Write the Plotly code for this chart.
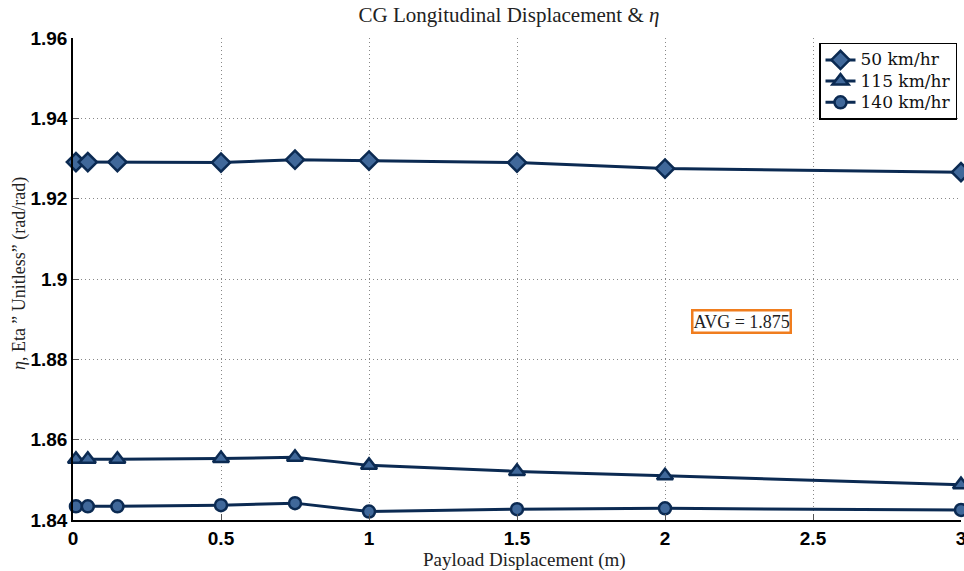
import plotly.graph_objects as go

# Payload displacement positions (m)
x_disp = [0.01, 0.05, 0.15, 0.5, 0.75, 1.0, 1.5, 2.0, 3.0]

# Eta values for each speed
eta_50 = [1.9291, 1.9291, 1.9291, 1.9290, 1.9297, 1.9295, 1.9290, 1.9275, 1.9266]
eta_115 = [1.8551, 1.8551, 1.8551, 1.8553, 1.8556, 1.8536, 1.8521, 1.8510, 1.8488]
eta_140 = [1.8434, 1.8434, 1.8434, 1.8437, 1.8442, 1.8421, 1.8427, 1.8429, 1.8425]

series_names = ["50 km/hr", "115 km/hr", "140 km/hr"]
series_symbols = ["diamond", "triangle-up", "circle"]
series_sizes = [14, 14, 12]

x_ticks = [0, 0.5, 1, 1.5, 2, 2.5, 3]
x_tick_text = ["0", "0.5", "1", "1.5", "2", "2.5", "3"]
y_ticks = [1.84, 1.86, 1.88, 1.90, 1.92, 1.94, 1.96]
y_tick_text = ["1.84", "1.86", "1.88", "1.9", "1.92", "1.94", "1.96"]

avg_value = 1.875
avg_pos = (2.26, 1.8894)

line_color = "#0b2a52"
fill_color = "#40689a"
serif = "Liberation Serif"
sans = "Liberation Sans"
grid_dash = "1px,3px"

fig = go.Figure()
for name, ys, sym, sz in zip(series_names, [eta_50, eta_115, eta_140], series_symbols, series_sizes):
    fig.add_trace(go.Scatter(
        x=x_disp, y=ys, name=f'<span style="font-size:17px">{name}</span>',
        mode="lines+markers",
        line=dict(color=line_color, width=3),
        marker=dict(symbol=sym, size=sz, color=fill_color,
                    line=dict(color=line_color, width=2.5)),
        cliponaxis=False,
    ))

fig.add_annotation(
    x=avg_pos[0], y=avg_pos[1], text=f"AVG = {avg_value}", showarrow=False,
    font=dict(family=serif, size=18, color="#222"),
    bgcolor="white", bordercolor="#f07d1e", borderwidth=2.5, borderpad=0,
)

# axis labels placed as paper annotations
fig.add_annotation(
    x=0.509, y=-0.084, xref="paper", yref="paper", xanchor="center", yanchor="middle",
    text="Payload Displacement (m)", showarrow=False,
    font=dict(family=serif, size=19, color="#222"),
)
fig.add_annotation(
    x=-0.061, y=0.512, xref="paper", yref="paper", xanchor="center", yanchor="middle",
    text="<i>η</i>, Eta ” Unitless” (rad/rad)", showarrow=False, textangle=-90,
    font=dict(family=serif, size=18, color="#222"),
)

fig.update_layout(
    width=964, height=571,
    margin=dict(l=73, r=3, t=38, b=51, autoexpand=False),
    paper_bgcolor="white", plot_bgcolor="white",
    title=dict(text="CG Longitudinal Displacement &amp; <i>η</i>", x=0.528, xanchor="center",
               y=0.975, yanchor="middle",
               font=dict(family=serif, size=21, color="#222")),
    showlegend=True,
    legend=dict(x=0.9955, y=0.99, xanchor="right", yanchor="top",
                bgcolor="white", bordercolor="black", borderwidth=1.5,
                font=dict(family="DejaVu Serif", size=14, color="#111"),
                itemwidth=30, tracegroupgap=0),
)

fig.update_xaxes(
    range=[0, 3], tickvals=x_ticks, ticktext=x_tick_text,
    ticklabeloverflow="allow", automargin=False,
    showline=True, linecolor="black", linewidth=1.5, mirror=False,
    ticks="inside", ticklen=6, tickcolor="#555",
    showgrid=True, gridcolor="#888", griddash=grid_dash, gridwidth=1,
    zeroline=False,
    tickfont=dict(family=sans, size=19, color="black", weight="bold"),
)
fig.update_yaxes(
    range=[1.84, 1.96], tickvals=y_ticks, ticktext=y_tick_text,
    automargin=False,
    showline=True, linecolor="black", linewidth=1.5, mirror=False,
    ticks="inside", ticklen=6, tickcolor="#555",
    showgrid=True, gridcolor="#888", griddash=grid_dash, gridwidth=1,
    zeroline=False,
    tickfont=dict(family=sans, size=19, color="black", weight="bold"),
)

fig.write_html("out.html")
